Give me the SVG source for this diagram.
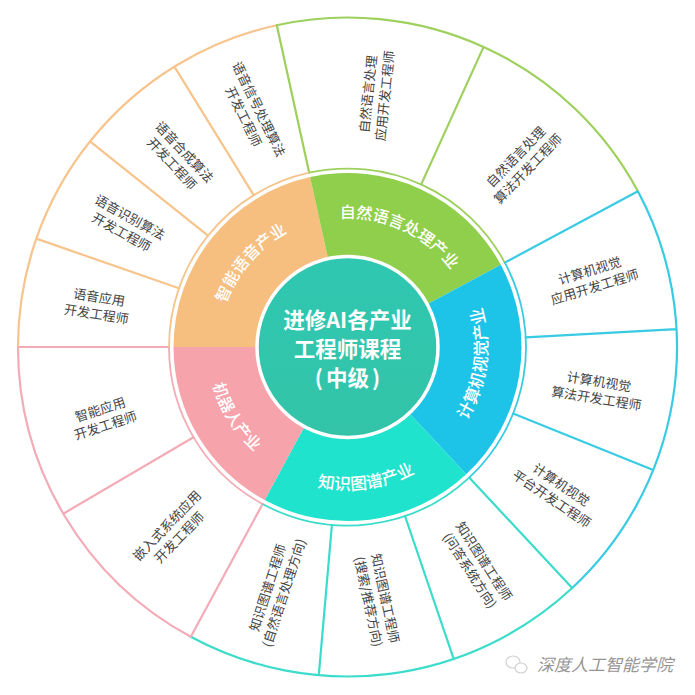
<svg xmlns="http://www.w3.org/2000/svg" width="695" height="695" viewBox="0 0 695 695">
<style>
.s{fill:none;stroke-width:2.2;stroke-linecap:round}
.o{stroke:#F6C48C}.g{stroke:#9DD05C}.b{stroke:#38CBE3}.t{stroke:#3CDCCB}.p{stroke:#F3ABB6}
.i{fill:none;stroke-width:1.8}
.l{font:13px "Noto Sans CJK SC","Noto Sans",sans-serif;fill:#444;text-anchor:middle}
.r{font:500 16px "Noto Sans CJK SC","Noto Sans",sans-serif;fill:#fff;text-anchor:middle}
.q{font-size:16.8px}
.c{font:700 21.5px "Noto Sans CJK SC","Noto Sans",sans-serif;fill:#fff;text-anchor:middle}
</style>
<defs>
<linearGradient id="cg" x1="0" y1="0" x2="0" y2="1"><stop offset="0" stop-color="#2FC7B1"/><stop offset="1" stop-color="#33C4A8"/></linearGradient>
<path id="pg" d="M273.5 241.3A129 129 0 0 1 476 335.8"/>
<path id="po" d="M225.5 389A129 129 0 0 1 372.1 220.4"/>
<path id="pb" d="M401.1 476.3A140 140 0 0 0 432.7 235.9"/>
<path id="pt" d="M234.8 435A143 143 0 0 0 480.1 400.6"/>
<path id="pp" d="M223.9 281.3A140 140 0 0 0 352.4 486.9"/>
</defs>
<rect width="695" height="695" fill="#fff"/>
<g id="connectors">
<path class="s o" d="M18 347A329.5 329.5 0 0 1 276.8 25.2M36.3 238.6L178.9 288.3M90 141.4L208 235.6M174.4 66.7L253.7 195.1"/>
<path class="s g" d="M276.8 25.2A329.5 329.5 0 0 1 637.9 191.3M276.8 25.2L309.2 172.7M483.6 46.9L421.2 184.4"/>
<path class="s b" d="M637.9 191.3A329.5 329.5 0 0 1 572.2 588M637.9 191.3L504.8 262.6M676.5 329.2L525.7 337.3M653.2 469.9L513.1 413.6"/>
<path class="s t" d="M572.2 588A329.5 329.5 0 0 1 190.8 636.8M572.2 588L469.2 477.6M453.7 658.9L405 516M318.8 675.2L331.9 524.8"/>
<path class="s p" d="M190.8 636.8A329.5 329.5 0 0 1 18 347M190.8 636.8L262.6 504M63.3 513.7L193.5 437.3M18 347L169 347"/>
</g>
<g id="ring-orange">
<path fill="#F6BE7F" d="M347.5 347L173.5 347A174 174 0 0 1 310.1 177.1Z"/>
<path class="i o" d="M169 347A178.5 178.5 0 0 1 309.2 172.7"/>
<text class="r"><textPath href="#po" startOffset="50%">智能语音产业</textPath></text>
</g>
<g id="ring-green">
<path fill="#8FCF4B" d="M347.5 347L310.1 177.1A174 174 0 0 1 500.8 264.8Z"/>
<path class="i g" d="M309.2 172.7A178.5 178.5 0 0 1 504.8 262.6"/>
<text class="r"><textPath href="#pg" startOffset="50%">自然语言处理产业</textPath></text>
</g>
<g id="ring-blue">
<path fill="#1DC4E8" d="M347.5 347L500.8 264.8A174 174 0 0 1 466.2 474.3Z"/>
<path class="i b" d="M504.8 262.6A178.5 178.5 0 0 1 469.2 477.6"/>
<text class="r q"><textPath href="#pb" startOffset="50%">计算机视觉产业</textPath></text>
</g>
<g id="ring-teal">
<path fill="#1FE3CC" d="M347.5 347L466.2 474.3A174 174 0 0 1 264.7 500.1Z"/>
<path class="i t" d="M469.2 477.6A178.5 178.5 0 0 1 262.6 504"/>
<text class="r q"><textPath href="#pt" startOffset="50%">知识图谱产业</textPath></text>
</g>
<g id="ring-pink">
<path fill="#F7A3AB" d="M347.5 347L264.7 500.1A174 174 0 0 1 173.5 347Z"/>
<path class="i p" d="M262.6 504A178.5 178.5 0 0 1 169 347"/>
<text class="r"><textPath href="#pp" startOffset="50%">机器人产业</textPath></text>
</g>
<g id="center">
<circle cx="347.5" cy="347" r="90.5" fill="url(#cg)" stroke="#fff" stroke-width="3.5"/>
<text class="c" x="347.5" y="328">进修AI各产业</text>
<text class="c" x="347.5" y="357">工程师课程</text>
<text class="c" x="347.5" y="386">(<tspan dx="3">中级</tspan><tspan dx="3">)</tspan></text>
</g>
<g id="n1" transform="translate(97.7 306) rotate(9)"><text class="l" y="-4">语音应用</text><text class="l" y="13">开发工程师</text></g>
<g id="n2" transform="translate(125.6 225) rotate(29)"><text class="l" y="-4">语音识别算法</text><text class="l" y="13">开发工程师</text></g>
<g id="n3" transform="translate(178 158) rotate(47)"><text class="l" y="-4">语音合成算法</text><text class="l" y="13">开发工程师</text></g>
<g id="n4" transform="translate(251 113) rotate(64)"><text class="l" y="-4">语音信号处理算法</text><text class="l" y="13">开发工程师</text></g>
<g id="n5" transform="translate(376.7 95) rotate(-84)"><text class="l" y="-4">自然语言处理</text><text class="l" y="13">应用开发工程师</text></g>
<g id="n6" transform="translate(522 163) rotate(-46)"><text class="l" y="-4">自然语言处理</text><text class="l" y="13">算法开发工程师</text></g>
<g id="n7" transform="translate(592.3 279) rotate(-17)"><text class="l" y="-4">计算机视觉</text><text class="l" y="13">应用开发工程师</text></g>
<g id="n8" transform="translate(597.7 390.3) rotate(9)"><text class="l" y="-4">计算机视觉</text><text class="l" y="13">算法开发工程师</text></g>
<g id="n9" transform="translate(556.3 492) rotate(34)"><text class="l" y="-4">计算机视觉</text><text class="l" y="13">平台开发工程师</text></g>
<g id="n10" transform="translate(476.7 566) rotate(57)"><text class="l" y="-4">知识图谱工程师</text><text class="l" y="13">(问答系统方向)</text></g>
<g id="n11" transform="translate(376.7 600) rotate(78)"><text class="l" y="-4">知识图谱工程师</text><text class="l" y="13">(搜索/推荐方向)</text></g>
<g id="n12" transform="translate(276 590.3) rotate(-72)"><text class="l" y="-4">知识图谱工程师</text><text class="l" y="13">(自然语言处理方向)</text></g>
<g id="n13" transform="translate(173.3 531.7) rotate(-46)"><text class="l" y="-4">嵌入式系统应用</text><text class="l" y="13">开发工程师</text></g>
<g id="n14" transform="translate(103 417.7) rotate(-18)"><text class="l" y="-4">智能应用</text><text class="l" y="13">开发工程师</text></g>
<g id="watermark">
<g fill="#fff" stroke="#d0d0d0" stroke-width="1.2"><ellipse cx="513" cy="662" rx="7" ry="6"/><ellipse cx="521" cy="668" rx="6" ry="5"/></g>
<text x="605" y="671" style="font:italic 17px 'Noto Sans CJK SC',sans-serif;fill:#969696;text-anchor:middle">深度人工智能学院</text>
</g>
</svg>
